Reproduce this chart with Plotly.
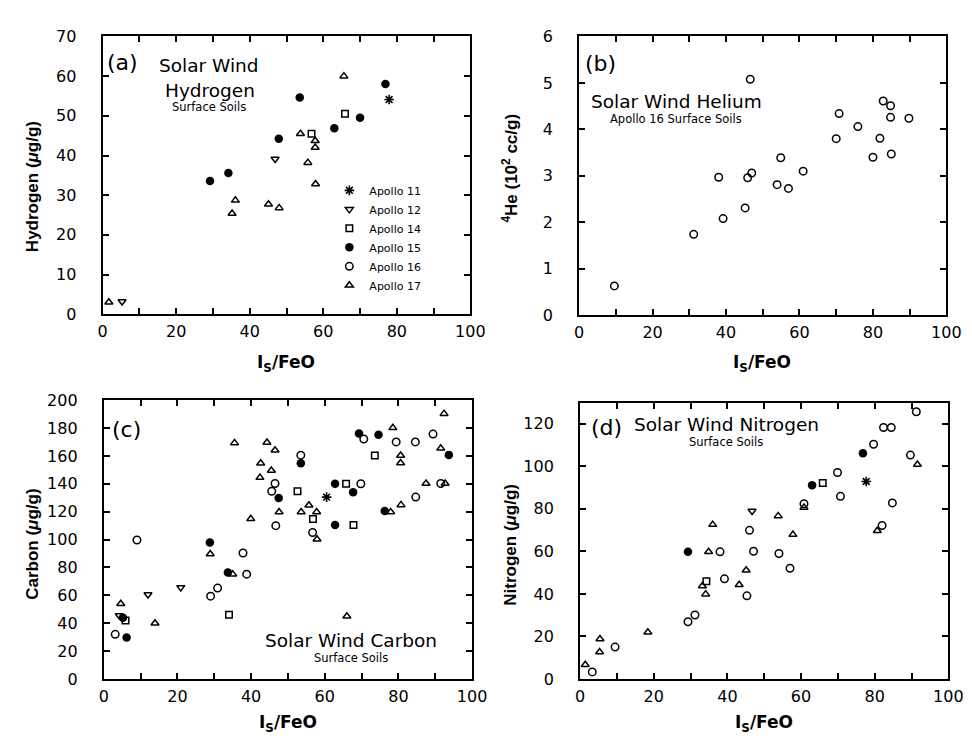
import plotly.graph_objects as go

# ---------------- data ----------------
# Panel (a): Solar wind hydrogen (ug/g) vs Is/FeO
H_a11_x = [77.9]
H_a11_y = [54.1]
H_a12_x = [5.3, 46.9]
H_a12_y = [3.2, 39.1]
H_a14_x = [65.9, 56.8]
H_a14_y = [50.5, 45.5]
H_a15_x = [29.2, 34.2, 53.6, 47.9, 63.0, 70.0, 76.9]
H_a15_y = [33.6, 35.6, 54.6, 44.2, 46.9, 49.5, 58.0]
H_a16_x = []
H_a16_y = []
H_a17_x = [1.7, 36.1, 35.2, 65.6, 53.8, 57.8, 57.8, 55.8, 57.9, 45.1, 48.0]
H_a17_y = [3.0, 28.7, 25.4, 60.0, 45.5, 43.7, 42.0, 38.2, 32.8, 27.7, 26.8]

# Panel (b): 4He (10^2 cc/g), Apollo 16 surface soils
He_a16_x = [9.6, 31.2, 38.0, 39.2, 46.6, 45.9, 47.0, 45.2, 54.9, 53.9, 57.0,
            61.0, 70.0, 70.8, 75.9, 81.9, 80.0, 82.8, 84.8, 84.8, 85.0, 89.8]
He_a16_y = [0.63, 1.74, 2.97, 2.08, 5.08, 2.96, 3.06, 2.31, 3.39, 2.81, 2.73,
            3.10, 3.80, 4.34, 4.06, 3.81, 3.40, 4.61, 4.51, 4.26, 3.47, 4.24]

# Panel (c): Solar wind carbon (ug/g)
C_a11_x = [60.5]
C_a11_y = [130.5]
C_a12_x = [4.2, 12.0, 20.9]
C_a12_y = [45.5, 60.6, 65.7]
C_a14_x = [5.9, 34.0, 52.6, 56.8, 65.8, 67.8, 73.6]
C_a14_y = [42.0, 46.1, 134.7, 114.7, 140.1, 110.5, 160.3]
C_a15_x = [5.2, 6.2, 28.8, 33.7, 47.5, 53.5, 62.8, 62.8, 67.7, 69.3, 74.6, 76.3, 93.7]
C_a15_y = [44.0, 29.8, 97.9, 76.4, 129.8, 154.8, 140.1, 110.5, 134.0, 176.2, 175.3, 120.5, 160.8]
C_a16_x = [3.1, 9.0, 29.0, 30.9, 37.8, 38.8, 45.6, 46.5, 46.7, 53.5, 56.7,
           69.8, 70.6, 79.4, 84.6, 84.7, 89.4, 91.5]
C_a16_y = [32.0, 99.7, 59.4, 65.2, 90.4, 75.2, 134.7, 140.3, 110.0, 160.6, 105.1,
           140.1, 172.2, 170.1, 170.1, 130.5, 175.7, 140.3]
C_a17_x = [4.6, 13.9, 28.9, 35.0, 35.5, 39.9, 42.4, 42.6, 44.3, 45.5, 46.5, 47.6,
           53.6, 55.7, 57.8, 57.9, 66.0, 77.9, 78.5, 80.6, 80.6, 80.7, 87.5, 91.5,
           92.4, 92.7]
C_a17_y = [54.0, 40.0, 89.7, 75.2, 169.4, 114.9, 144.5, 154.8, 169.7, 149.6, 164.1, 119.8,
           119.8, 124.7, 119.8, 100.2, 45.0, 119.8, 180.2, 160.3, 155.0, 124.9, 140.3, 165.5,
           190.4, 140.3]

# Panel (d): Solar wind nitrogen (ug/g)
N_a11_x = [77.7]
N_a11_y = [92.9]
N_a12_x = [46.7]
N_a12_y = [79.0]
N_a14_x = [34.3, 65.9]
N_a14_y = [45.9, 92.2]
N_a15_x = [29.3, 63.0, 76.8]
N_a15_y = [59.8, 91.1, 106.2]
N_a16_x = [3.3, 9.5, 29.3, 31.2, 38.0, 39.2, 45.3, 46.0, 47.1, 54.0, 57.0, 60.8,
           69.9, 70.7, 79.7, 82.0, 82.4, 84.5, 84.8, 89.7, 91.3]
N_a16_y = [3.3, 15.0, 26.9, 30.1, 59.8, 47.1, 39.1, 69.9, 60.1, 59.0, 52.1, 82.4,
           97.1, 85.9, 110.4, 72.2, 118.3, 118.3, 82.8, 105.3, 125.7]
N_a17_x = [1.4, 5.3, 5.4, 18.4, 33.2, 34.1, 34.9, 36.0, 43.2, 45.1, 53.8, 57.8,
           60.8, 80.7, 91.6]
N_a17_y = [6.7, 12.7, 18.8, 22.0, 43.7, 39.9, 59.8, 72.6, 44.3, 51.1, 76.7, 67.9,
           80.7, 69.7, 100.9]

missions = ["Apollo 11", "Apollo 12", "Apollo 14", "Apollo 15", "Apollo 16", "Apollo 17"]

# ---------------- styles ----------------
W, H = 972, 744
FONT = "DejaVu Sans, Liberation Sans, Arial, sans-serif"
FONT_T = "Liberation Sans, Arial, sans-serif"

marker_styles = {
    "Apollo 11": dict(symbol="asterisk-open", size=8, color="black",
                      line=dict(color="black", width=1.6)),
    "Apollo 12": dict(symbol="triangle-down-open", size=7, color="black",
                      line=dict(color="black", width=1.5)),
    "Apollo 14": dict(symbol="square-open", size=6.5, color="black",
                      line=dict(color="black", width=1.5)),
    "Apollo 15": dict(symbol="circle", size=8.5, color="black",
                      line=dict(color="black", width=0)),
    "Apollo 16": dict(symbol="circle-open", size=7.5, color="black",
                      line=dict(color="black", width=1.5)),
    "Apollo 17": dict(symbol="triangle-up-open", size=7, color="black",
                      line=dict(color="black", width=1.5)),
}

panel_data = {
    "a": [(H_a11_x, H_a11_y), (H_a12_x, H_a12_y), (H_a14_x, H_a14_y),
          (H_a15_x, H_a15_y), (H_a16_x, H_a16_y), (H_a17_x, H_a17_y)],
    "c": [(C_a11_x, C_a11_y), (C_a12_x, C_a12_y), (C_a14_x, C_a14_y),
          (C_a15_x, C_a15_y), (C_a16_x, C_a16_y), (C_a17_x, C_a17_y)],
    "d": [(N_a11_x, N_a11_y), (N_a12_x, N_a12_y), (N_a14_x, N_a14_y),
          (N_a15_x, N_a15_y), (N_a16_x, N_a16_y), (N_a17_x, N_a17_y)],
}
axes_of = {"a": ("x", "y"), "b": ("x2", "y2"), "c": ("x3", "y3"), "d": ("x4", "y4")}

fig = go.Figure()

# the carbon-panel traces (all six missions present) carry the legend entries
for key in ["a", "c", "d"]:
    xa, ya = axes_of[key]
    for i, (m, (xs, ys)) in enumerate(zip(missions, panel_data[key])):
        if len(xs) == 0:
            continue
        fig.add_trace(go.Scatter(
            x=xs, y=ys, mode="markers", name=m, legendgroup=m, legendrank=i + 1,
            showlegend=(key == "c"), marker=marker_styles[m],
            xaxis=xa, yaxis=ya, cliponaxis=False))

fig.add_trace(go.Scatter(x=He_a16_x, y=He_a16_y, mode="markers", name="Apollo 16",
                         legendgroup="Apollo 16",
                         showlegend=False, marker=marker_styles["Apollo 16"],
                         xaxis="x2", yaxis="y2", cliponaxis=False))


def px2paper_x(px):
    return px / W


def px2paper_y(py):
    return 1 - py / H


def axis_common(**kw):
    d = dict(showline=True, linewidth=2, linecolor="black", mirror="ticks",
             ticks="inside", ticklen=6, tickwidth=1.5, tickcolor="black",
             showgrid=False, zeroline=False,
             tickfont=dict(family=FONT, size=16, color="black"))
    d.update(kw)
    return d


def xaxis(dom, anchor):
    return axis_common(domain=dom, anchor=anchor, range=[0, 100], dtick=20, tick0=0,
                       ticklabelstandoff=2,
                       minor=dict(dtick=10, ticks="inside", ticklen=6, tickwidth=1.5,
                                  tickcolor="black"))


def yaxis(dom, anchor, rng, dtick):
    return axis_common(domain=dom, anchor=anchor, range=rng, dtick=dtick, tick0=0,
                       ticklabelstandoff=21)


# panel frames in pixels: (left, right, top, bottom)
frames = {
    "a": (91.5, 467, 20, 305),
    "b": (578, 953, 20, 306),
    "c": (92.7, 468.7, 393.3, 679.3),
    "d": (579, 955, 395.7, 679.3),
}


def dom(key):
    l, r, t, b = frames[key]
    return [px2paper_x(l), px2paper_x(r)], [px2paper_y(b), px2paper_y(t)]


xd, yd = dom("a")
fig.update_layout(xaxis=xaxis(xd, "y"), yaxis=yaxis(yd, "x", [0, 70], 10))
xd, yd = dom("b")
fig.update_layout(xaxis2=xaxis(xd, "y2"), yaxis2=yaxis(yd, "x2", [0, 6], 1))
xd, yd = dom("c")
fig.update_layout(xaxis3=xaxis(xd, "y3"), yaxis3=yaxis(yd, "x3", [0, 200], 20))
xd, yd = dom("d")
fig.update_layout(xaxis4=xaxis(xd, "y4"), yaxis4=yaxis(yd, "x4", [0, 130], 20))

annotations = []


def txt(text, px, py, size, family=FONT, angle=0, xanchor="center"):
    annotations.append(dict(text=text, x=px2paper_x(px), y=px2paper_y(py),
                            xref="paper", yref="paper", showarrow=False,
                            xanchor=xanchor, yanchor="middle", textangle=angle,
                            font=dict(family=family, size=size, color="black")))


# panel labels and titles
txt("(a)", 112, 47, 22)
txt("Solar Wind", 200, 50, 18.5)
txt("Hydrogen", 201, 75, 18.5)
txt("Surface Soils", 200, 92, 11.5)

txt("(b)", 600, 47.5, 22)
txt("Solar Wind Helium", 677, 87, 18.5)
txt("Apollo 16 Surface Soils", 677, 105, 11.5)

txt("(c)", 116, 423, 22)
txt("Solar Wind Carbon", 345, 640, 18.5)
txt("Surface Soils", 345, 658, 11.5)

txt("(d)", 606, 421.7, 22)
txt("Solar Wind Nitrogen", 728, 418, 18.5)
txt("Surface Soils", 728, 435.7, 11.5)

# axis titles
xt = "<b>I<sub>S</sub>/FeO</b>"
txt(xt, 279, 356, 17)
txt(xt, 765, 356, 17)
txt(xt, 281, 725, 17)
txt(xt, 767, 725, 17)

txt("<b>Hydrogen (<i>μ</i>g/g)</b>", 20, 174, 17, family=FONT_T, angle=-90)
txt("<b><sup>4</sup>He (10<sup>2</sup> cc/g)</b>", 507, 155, 17, family=FONT_T, angle=-90)
txt("<b>Carbon (<i>μ</i>g/g)</b>", 20, 541, 17, family=FONT_T, angle=-90)
txt("<b>Nitrogen (<i>μ</i>g/g)</b>", 508, 542, 17, family=FONT_T, angle=-90)

fig.update_layout(
    width=W, height=H,
    margin=dict(l=0, r=0, t=0, b=0),
    paper_bgcolor="white", plot_bgcolor="white",
    annotations=annotations,
    showlegend=True,
    legend=dict(x=px2paper_x(323), y=px2paper_y(163), xanchor="left", yanchor="top",
                bgcolor="rgba(0,0,0,0)", borderwidth=0,
                font=dict(family=FONT, size=11, color="black"),
                itemsizing="trace", tracegroupgap=0, traceorder="normal"),
)

fig.write_html("out.html")
